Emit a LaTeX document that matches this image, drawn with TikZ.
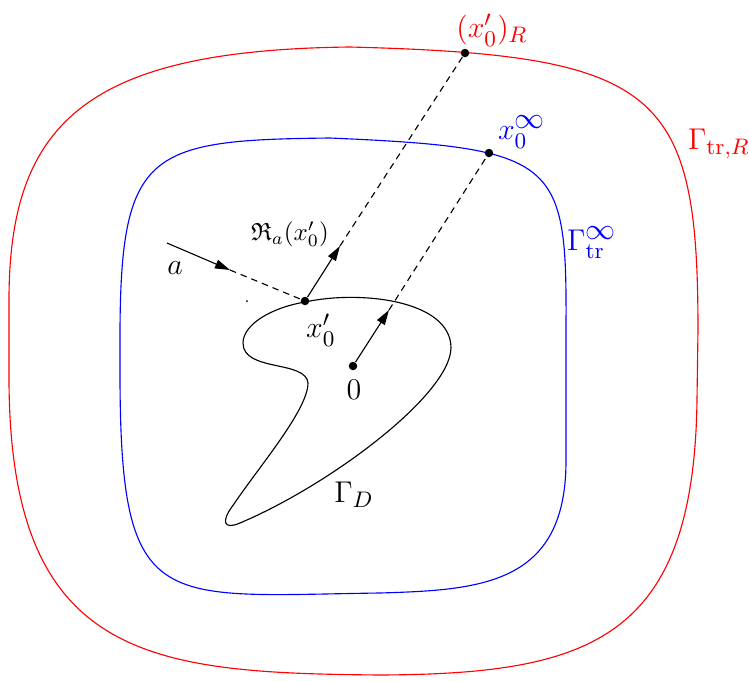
\documentclass[tikz,border=0pt]{standalone}
\usepackage{amsmath,amssymb,amsfonts}
\usepackage{xcolor}
\usetikzlibrary{arrows.meta}
\definecolor{CurveRed}{HTML}{FF0000}
\definecolor{CurveBlue}{HTML}{0000FF}

\begin{document}
\begin{tikzpicture}[
	x=0.4pt, y=-0.4pt, % one unit is one pixel of the layout
	% Style for the black points
	dot/.style={
		circle,
		fill=black,
		inner sep=0pt,
		minimum size=3.4pt
	},
	% Style for the solid rays with a head
	ray/.style={
		draw=black,
		line width=0.45pt,
		-{Triangle[length=6pt,width=3.6pt]}
	},
	% Style for the dashed continuations
	trace/.style={
		draw=black,
		line width=0.45pt,
		dash pattern=on 2.6pt off 2pt
	},
	% Style for the labels
	tag/.style={
		font=\fontsize{13}{15}\selectfont,
		inner sep=0pt
	}
	]
	\useasboundingbox (0,0) rectangle (749,681);
	
	% 1. Boundaries
	\draw[CurveRed, line width=0.45pt] (9,300) .. controls (9,120) and (90,50) .. (350,47)
		.. controls (660,55) and (698,90) .. (698,330) -- (697,400)
		.. controls (694,640) and (590,674) .. (380,675)
		.. controls (150,673) and (10,660) .. (9,380) -- cycle;
	
	\draw[CurveBlue, line width=0.45pt] (120,330) .. controls (121,150) and (150,140) .. (330,138)
		.. controls (560,148) and (567,160) .. (566,330) -- (566,463)
		.. controls (565,585) and (480,590) .. (380,593)
		.. controls (160,596) and (121,615) .. (120,380) -- cycle;
	
	\draw[line width=0.45pt] (305,302) .. controls (360,290) and (451,300) .. (451,348)
		.. controls (450,395) and (330,485) .. (240,523)
		.. controls (224,530) and (220,522) .. (234,504)
		.. controls (258,468) and (308,410) .. (308,383)
		.. controls (306,360) and (243,372) .. (243,343)
		.. controls (243,325) and (270,308) .. cycle;
	
	% 2. Points
	\node[dot] (X) at (305,301) {};
	\node[dot] (O) at (353,366) {};
	\node[dot] (XI) at (489,153) {};
	\node[dot] (XR) at (465,53) {};
	\node[circle, fill=black, inner sep=0pt, minimum size=0.8pt] (S) at (247,301) {};
	
	\coordinate (A0) at (167,243);
	\coordinate (A1) at (230,270);
	\coordinate (T1) at (340,246);
	\coordinate (T2) at (389,310);
	
	% 3. Rays
	\draw[ray] (A0) -- (A1);
	\draw[trace] (A1) -- (X);
	
	\draw[ray] (X) -- (T1);
	\draw[trace] (T1) -- (XR);
	
	\draw[ray] (O) -- (T2);
	\draw[trace] (T2) -- (XI);
	
	% 4. Labels
	\node[tag, text=CurveRed] at (492,30) {$(x'_0)_R$};
	\node[tag, text=CurveBlue] at (522,132) {$x_0^{\textstyle\infty}$};
	\node[tag, text=CurveRed] at (719,144) {$\Gamma_{\mathrm{tr},R}$};
	\node[tag, text=CurveBlue] at (592,243) {$\Gamma_{\mathrm{tr}}^{\textstyle\infty}$};
	\node[tag, font=\normalsize] at (290,234) {$\mathfrak{R}_a(x'_0)$};
	\node[tag] at (321,330) {$x'_0$};
	\node[tag] at (175,268) {$a$};
	\node[tag] at (354,390) {$0$};
	\node[tag] at (354,495) {$\Gamma_D$};
	
\end{tikzpicture}
\end{document}
